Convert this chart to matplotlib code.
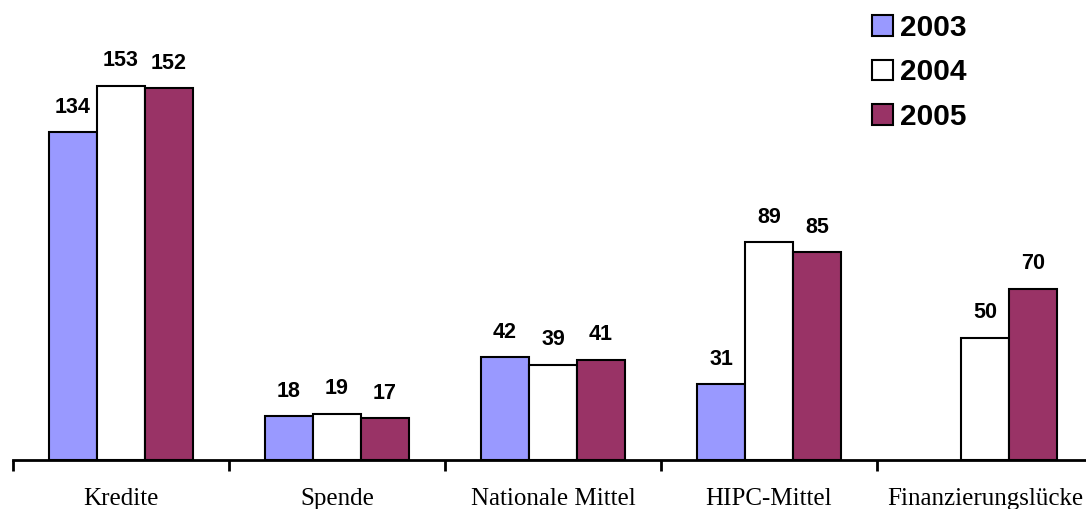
import matplotlib
matplotlib.use("Agg")
import matplotlib.pyplot as plt
import numpy as np
from matplotlib.patches import Patch

categories = ["Kredite", "Spende", "Nationale Mittel", "HIPC-Mittel", "Finanzierungslücke"]
years = ["2003", "2004", "2005"]
values_2003 = [134, 18, 42, 31, None]
values_2004 = [153, 19, 39, 89, 50]
values_2005 = [152, 17, 41, 85, 70]
colors = ["#9999FF", "#FFFFFF", "#993366"]

W, H, DPI = 1086, 509, 100
fig = plt.figure(figsize=(W / DPI, H / DPI), dpi=DPI)
ax = fig.add_axes([13 / W, 49 / H, 1080 / W, 460 / H])

series = [values_2003, values_2004, values_2005]
x = np.arange(len(categories))
bw = 2 / 9
for i, (vals, col, yr) in enumerate(zip(series, colors, years)):
    for xi, v in zip(x, vals):
        if v is None:
            continue
        pos = xi + (i - 1) * bw
        ax.bar(pos, v, width=bw, color=col, edgecolor="black", linewidth=1.5, zorder=2)
        ax.annotate(str(v), (pos, v), xytext=(0, 14), textcoords="offset points",
                    ha="center", va="baseline", fontsize=15.5, fontweight="bold",
                    family="Liberation Sans")

ax.set_xlim(-0.5, len(categories) - 0.5)
ax.set_ylim(0, 188)
for s in ["top", "right", "left"]:
    ax.spines[s].set_visible(False)
ax.spines["bottom"].set_linewidth(2)
ax.set_yticks([])
ax.set_xticks(np.arange(len(categories) + 1) - 0.5)
ax.set_xticklabels([])
ax.tick_params(axis="x", length=8, width=2, direction="out")
ax.set_xticks(x, minor=True)
ax.set_xticklabels(categories, minor=True, family="Liberation Serif", fontsize=18)
ax.tick_params(axis="x", which="minor", length=0, pad=20)

handles = [Patch(facecolor=c, edgecolor="black", linewidth=1.5) for c in colors]
leg = fig.legend(handles, years, loc="upper left", bbox_to_anchor=(872 / W, 1 - 14 / H),
                 frameon=False, handlelength=0.7, handleheight=0.7, handletextpad=0.25,
                 labelspacing=0.55, borderaxespad=0, borderpad=0,
                 prop={"family": "Liberation Sans", "weight": "bold", "size": 21.5})

fig.savefig("out.png", dpi=DPI)
